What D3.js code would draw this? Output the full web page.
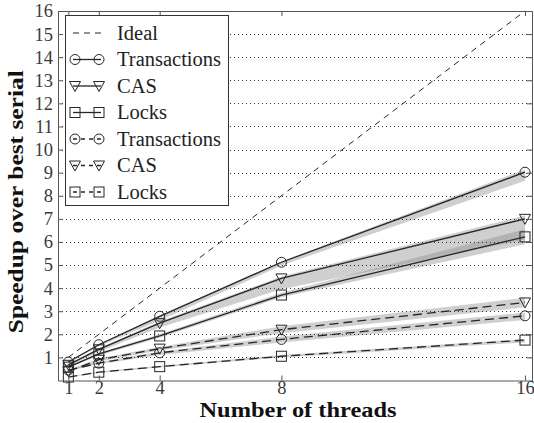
<!DOCTYPE html>
<html>
<head>
<meta charset="utf-8">
<script src="https://cdn.jsdelivr.net/npm/d3@7"></script>
<style>
  body { margin: 0; background: #fff; }
  svg { display: block; }
</style>
</head>
<body>
<div id="chart"></div>
<script>
// thread counts on the x axis
const threads = [1, 2, 4, 8, 16];
const yTicks = [1, 2, 3, 4, 5, 6, 7, 8, 9, 10, 11, 12, 13, 14, 15, 16];

// mean speedup per series (solid = first group, dashed = second group)
const txSolid = [0.8, 1.55, 2.78, 5.12, 9.02];
const casSolid = [0.68, 1.35, 2.48, 4.42, 7.0];
const locksSolid = [0.58, 1.15, 1.93, 3.7, 6.22];
const txDashed = [0.45, 0.75, 1.2, 1.78, 2.8];
const casDashed = [0.4, 0.9, 1.38, 2.2, 3.38];
const locksDashed = [0.15, 0.36, 0.6, 1.05, 1.75];

// spread bands (low / high) per series
const txSolidLo = [0.76, 1.48, 2.6, 4.98, 8.65];
const txSolidHi = [0.82, 1.58, 2.82, 5.16, 9.14];
const casSolidLo = [0.62, 1.25, 2.3, 3.95, 6.1];
const casSolidHi = [0.72, 1.4, 2.55, 4.5, 7.15];
const locksSolidLo = [0.54, 1.08, 1.85, 3.6, 5.9];
const locksSolidHi = [0.62, 1.2, 2.0, 3.8, 6.55];
const txDashedLo = [0.42, 0.7, 1.1, 1.65, 2.62];
const txDashedHi = [0.48, 0.8, 1.25, 1.9, 2.94];
const casDashedLo = [0.37, 0.82, 1.3, 2.05, 3.17];
const casDashedHi = [0.45, 0.95, 1.45, 2.35, 3.58];
const locksDashedLo = [0.13, 0.33, 0.56, 1.0, 1.65];
const locksDashedHi = [0.17, 0.39, 0.64, 1.1, 1.8];

const series = [
  { name: 'Transactions', values: txSolid, lo: txSolidLo, hi: txSolidHi, marker: 'circle', dashed: false },
  { name: 'CAS', values: casSolid, lo: casSolidLo, hi: casSolidHi, marker: 'triangle', dashed: false },
  { name: 'Locks', values: locksSolid, lo: locksSolidLo, hi: locksSolidHi, marker: 'square', dashed: false },
  { name: 'Transactions', values: txDashed, lo: txDashedLo, hi: txDashedHi, marker: 'circle', dashed: true },
  { name: 'CAS', values: casDashed, lo: casDashedLo, hi: casDashedHi, marker: 'triangle', dashed: true },
  { name: 'Locks', values: locksDashed, lo: locksDashedLo, hi: locksDashedHi, marker: 'square', dashed: true }
];

const width = 534, height = 423;
const plotLeft = 58, plotRight = 532, plotTop = 11, plotBottom = 380.5;
const ink = '#262626';
const serif = "'Liberation Serif', serif";

const svg = d3.select('#chart').append('svg')
  .attr('width', width)
  .attr('height', height);

const x = d3.scaleLinear().domain([0.66, 16.23]).range([plotLeft, plotRight]);
const y = d3.scaleLinear().domain([0, 16]).range([plotBottom, plotTop]);

// shaded spread bands
const area = d3.area()
  .x((d, i) => x(threads[i]))
  .y0(d => y(d[0]))
  .y1(d => y(d[1]));

series.forEach(s => {
  svg.append('path')
    .datum(s.lo.map((v, i) => [v, s.hi[i]]))
    .attr('d', area)
    .attr('fill', '#8c8c8c')
    .attr('fill-opacity', 0.42);
});

// dotted horizontal grid
svg.append('g')
  .selectAll('line')
  .data(yTicks.filter(t => t < 16))
  .enter()
  .append('line')
  .attr('x1', plotLeft)
  .attr('x2', plotRight)
  .attr('y1', d => Math.round(y(d)) + 0.5)
  .attr('y2', d => Math.round(y(d)) + 0.5)
  .attr('stroke', '#333')
  .attr('stroke-width', 1)
  .attr('stroke-dasharray', '1,3');

// ideal speedup line
svg.append('line')
  .attr('x1', x(1)).attr('y1', y(1))
  .attr('x2', x(16)).attr('y2', y(16))
  .attr('stroke', ink)
  .attr('stroke-width', 1)
  .attr('stroke-dasharray', '6,5');

// series lines
const line = d3.line()
  .x((d, i) => x(threads[i]))
  .y(d => y(d));

series.forEach(s => {
  svg.append('path')
    .datum(s.values)
    .attr('d', line)
    .attr('fill', 'none')
    .attr('stroke', ink)
    .attr('stroke-width', 1.3)
    .attr('stroke-dasharray', s.dashed ? '9,5' : null);
});

function drawMarker(g, type, cx, cy) {
  if (type === 'circle') {
    g.append('circle')
      .attr('cx', cx).attr('cy', cy).attr('r', 5)
      .attr('fill', 'none').attr('stroke', ink).attr('stroke-width', 1);
  } else if (type === 'triangle') {
    g.append('path')
      .attr('d', `M${cx - 5.5},${cy - 4.5}L${cx + 5.5},${cy - 4.5}L${cx},${cy + 5.5}Z`)
      .attr('fill', 'none').attr('stroke', ink).attr('stroke-width', 1);
  } else {
    g.append('rect')
      .attr('x', cx - 5).attr('y', cy - 5).attr('width', 10).attr('height', 10)
      .attr('fill', 'none').attr('stroke', ink).attr('stroke-width', 1);
  }
}

const markers = svg.append('g');
series.forEach(s => {
  s.values.forEach((v, i) => drawMarker(markers, s.marker, x(threads[i]), y(v)));
});

// axes (ticks point inwards, box on all sides)
const axisStyle = g => {
  g.selectAll('.domain').attr('stroke', '#555');
  g.selectAll('.tick line').attr('stroke', '#555');
  g.selectAll('text')
    .attr('fill', '#3a3a3a')
    .style('font-family', serif)
    .style('font-size', '18.5px');
};

svg.append('g')
  .attr('transform', `translate(0,${plotBottom})`)
  .call(d3.axisBottom(x).tickValues(threads).tickSize(-5).tickSizeOuter(0).tickPadding(0))
  .call(axisStyle);

svg.append('g')
  .attr('transform', `translate(0,${plotTop})`)
  .call(d3.axisTop(x).tickValues(threads).tickSize(-5).tickSizeOuter(0).tickFormat(''))
  .call(axisStyle);

svg.append('g')
  .attr('transform', `translate(${plotLeft},0)`)
  .call(d3.axisLeft(y).tickValues(yTicks).tickSize(-5).tickSizeOuter(0).tickPadding(5))
  .call(axisStyle);

svg.append('g')
  .attr('transform', `translate(${plotRight},0)`)
  .call(d3.axisRight(y).tickValues(yTicks).tickSize(-5).tickSizeOuter(0).tickFormat(''))
  .call(axisStyle);

// axis titles
svg.append('text')
  .attr('x', (plotLeft + plotRight) / 2 + 3)
  .attr('y', 417)
  .attr('text-anchor', 'middle')
  .style('font-family', serif)
  .style('font-weight', 'bold')
  .style('font-size', '20px')
  .attr('textLength', 197)
  .attr('lengthAdjust', 'spacingAndGlyphs')
  .attr('fill', '#111')
  .text('Number of threads');

svg.append('text')
  .attr('transform', `translate(23,${(plotTop + plotBottom) / 2 + 6}) rotate(-90)`)
  .attr('text-anchor', 'middle')
  .style('font-family', serif)
  .style('font-weight', 'bold')
  .style('font-size', '21px')
  .attr('textLength', 263)
  .attr('lengthAdjust', 'spacingAndGlyphs')
  .attr('fill', '#111')
  .text('Speedup over best serial');

// legend
const legend = svg.append('g');
legend.append('rect')
  .attr('x', 65.5).attr('y', 15.5)
  .attr('width', 163).attr('height', 190)
  .attr('fill', '#fff')
  .attr('stroke', '#333')
  .attr('stroke-width', 1);

const legendItems = [{ name: 'Ideal', marker: null, dashed: true, ideal: true }].concat(series);
legendItems.forEach((d, i) => {
  const ly = 33 + i * 26.5;
  legend.append('line')
    .attr('x1', 73).attr('x2', 101)
    .attr('y1', ly).attr('y2', ly)
    .attr('stroke', ink)
    .attr('stroke-width', d.ideal ? 1 : 1.3)
    .attr('stroke-dasharray', d.ideal ? '6,5' : (d.dashed ? '4,4' : null));
  if (d.marker) {
    drawMarker(legend, d.marker, 75, ly);
    drawMarker(legend, d.marker, 99, ly);
  }
  legend.append('text')
    .attr('x', 117)
    .attr('y', ly + 6.5)
    .style('font-family', serif)
    .style('font-size', '20.5px')
    .attr('fill', '#222')
    .text(d.name);
});
</script>
</body>
</html>
